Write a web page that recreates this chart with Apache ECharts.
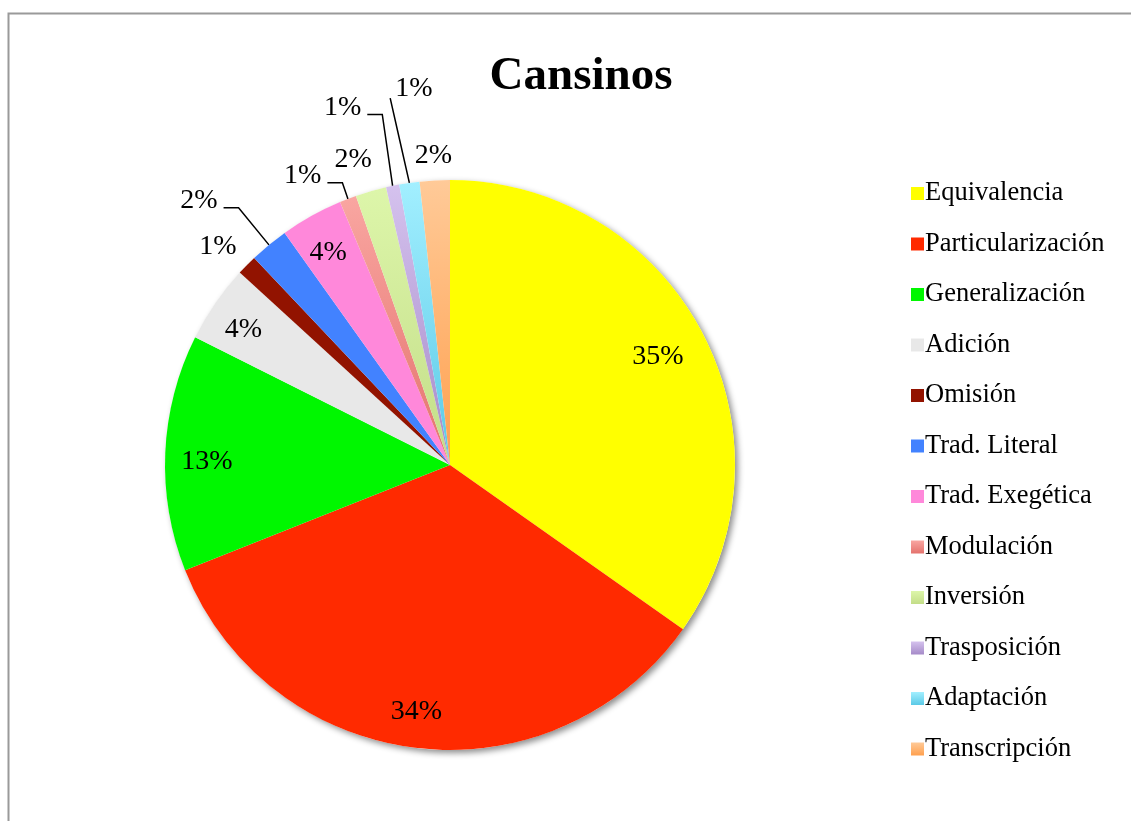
<!DOCTYPE html>
<html>
<head>
<meta charset="utf-8">
<script src="https://cdn.jsdelivr.net/npm/echarts@6/dist/echarts.min.js"></script>
<style>html,body{margin:0;padding:0;background:#fff;}#c{width:1131px;height:821px;}</style>
</head>
<body>
<div id="c"></div>
<script>
// ---- data ----
const TITLE = 'Cansinos';
const CATEGORIES = ['Equivalencia','Particularización','Generalización','Adición','Omisión','Trad. Literal','Trad. Exegética','Modulación','Inversión','Trasposición','Adaptación','Transcripción'];
const VALUES = [34.75, 34.2, 13.4, 4.4, 1.15, 2.2, 3.55, 0.95, 1.75, 0.75, 1.15, 1.7];

// ---- styles ----
const grad = (a, b) => ({type:'linear', x:0, y:0, x2:0, y2:1, colorStops:[{offset:0,color:a},{offset:1,color:b}]});
const COLORS = ['#FFFF00','#FF2A00','#00F700','#E8E8E8','#921300','#4282FF','#FF88DA',
  grad('#F9A6A1','#E4726D'), grad('#DDF6AA','#C3DD88'), grad('#D5C2EE','#A58AC8'),
  grad('#A2EFFF','#5BC9E6'), grad('#FFCA98','#FFA04E')];
// label placement: [angle offset from slice middle (deg), radius factor]
const LABEL_SPOT = [[0,0.822],[1,0.875],[-1.8,0.853],[-1.4,0.866],[-1.2,1.119],[-4.1,1.279],[-0.7,0.86],[-6.0,1.139],[-1.5,1.123],[-5.1,1.31],[2.7,1.325],[0,1.088]];
// leader line kind: 0 none, 1 from label right with horizontal elbow, 2 from label bottom-left
const LEADER = [0,0,0,0,0,1,0,1,0,1,2,0];

const CX = 450, CY = 465, R = 285;
const total = VALUES.reduce((a,b)=>a+b,0);
const mids = []; let acc = 0;
VALUES.forEach(v => { const a = v/total*360; mids.push(acc + a/2); acc += a; });
const pt = (deg, rad) => { const t = deg*Math.PI/180; return [CX + rad*Math.sin(t), CY - rad*Math.cos(t)]; };

const chart = echarts.init(document.getElementById('c'), null, {renderer:'canvas'});
chart.setOption({
  backgroundColor:'#fff',
  animation:false,
  title:{text:TITLE, left:576, textAlign:'center', top:46,
    textStyle:{fontFamily:'Liberation Serif', fontSize:47, fontWeight:'bold', color:'#000', lineHeight:52}},
  legend:{orient:'vertical', left:906, top:175, itemWidth:13, itemHeight:13, itemGap:23.5,
    icon:'rect', selectedMode:false,
    textStyle:{fontFamily:'Liberation Serif', fontSize:26.5, color:'#000', lineHeight:26, padding:[0,0,0,-4]},
    data:CATEGORIES},
  graphic:[
    {type:'polyline', shape:{points:[[8.5,822],[8.5,13.5],[1132,13.5]]}, style:{stroke:'#9a9a9a', lineWidth:2, fill:null}, z:0},
    {type:'circle', shape:{cx:CX, cy:CY, r:R}, style:{fill:'#fff', shadowBlur:6, shadowOffsetX:3, shadowOffsetY:3, shadowColor:'rgba(0,0,0,0.45)'}, z:0}
  ],
  series:[{
    type:'pie', center:[CX,CY], radius:[0,R], startAngle:90, clockwise:true,
    avoidLabelOverlap:false, silent:true,
    label:{show:true, position:'outside', fontFamily:'Liberation Serif', fontSize:28, color:'#000',
      formatter: p => Math.round(p.percent) + '%'},
    labelLine:{show:false, lineStyle:{color:'#000', width:1.5}},
    data: CATEGORIES.map((n,i) => ({name:n, value:VALUES[i], itemStyle:{color:COLORS[i]},
      labelLine:{show: LEADER[i] > 0, length:10, length2:10}})),
    labelLayout: function(p){
      const i = p.dataIndex;
      const [x, y] = pt(mids[i] + LABEL_SPOT[i][0], R*LABEL_SPOT[i][1]);
      const res = {x:x, y:y, align:'center', verticalAlign:'middle'};
      const w = p.labelRect.width;
      const s = pt(mids[i], R);
      if (LEADER[i] === 1) {
        const e = [x + w/2 + 6, y + 7];
        res.labelLinePoints = [s, [e[0]+15, e[1]], e];
      } else if (LEADER[i] === 2) {
        const e = [x - w/2 - 5, y + 9];
        res.labelLinePoints = [s, [(s[0]+e[0])/2, (s[1]+e[1])/2], e];
      }
      return res;
    }
  }]
});
</script>
</body>
</html>
